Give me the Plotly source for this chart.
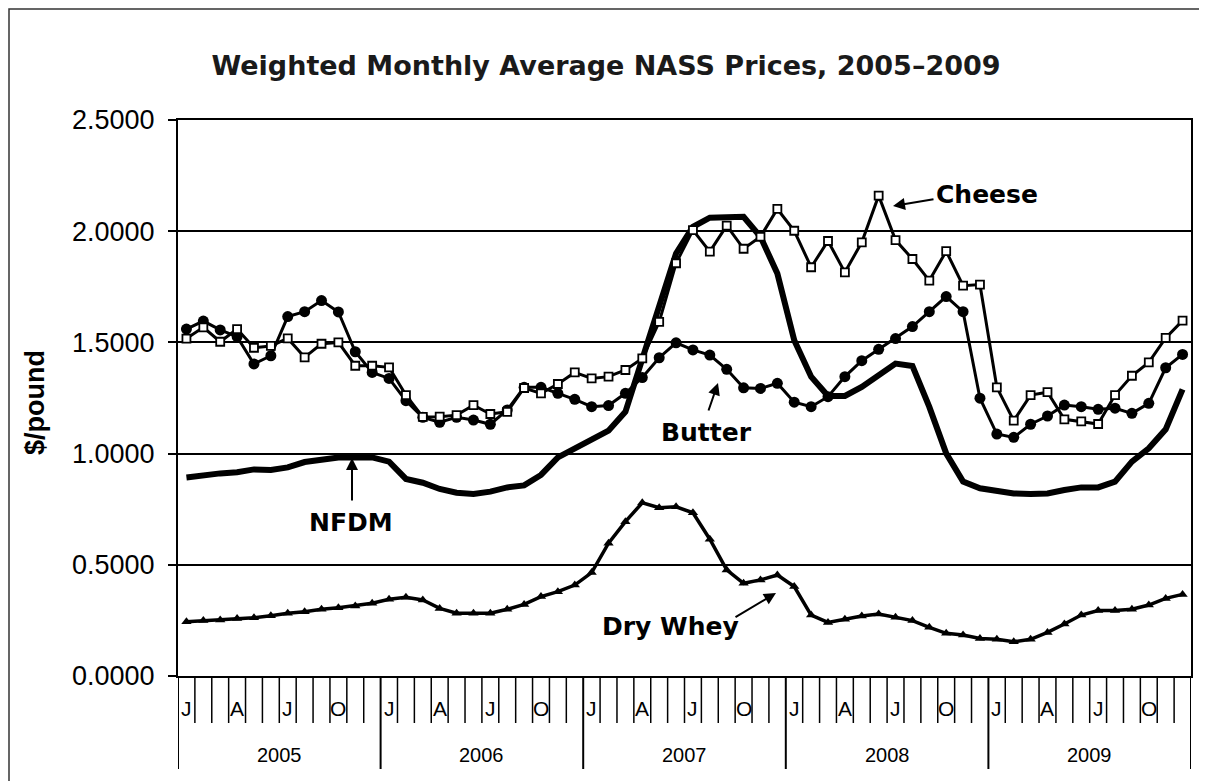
import plotly.graph_objects as go

# ---------------- data ----------------
YEARS = ["2005", "2006", "2007", "2008", "2009"]
MONTH_LABELS = ["J", "", "", "A", "", "", "J", "", "", "O", "", ""]

cheese = [1.517, 1.568, 1.503, 1.560, 1.476, 1.484, 1.518, 1.433, 1.494, 1.500, 1.395, 1.395,
          1.388, 1.263, 1.165, 1.166, 1.173, 1.218, 1.178, 1.188, 1.295, 1.271, 1.313, 1.365,
          1.338, 1.346, 1.376, 1.428, 1.592, 1.856, 2.005, 1.908, 2.025, 1.921, 1.975, 2.100,
          2.002, 1.838, 1.956, 1.815, 1.950, 2.160, 1.960, 1.875, 1.778, 1.910, 1.755, 1.760,
          1.298, 1.148, 1.263, 1.276, 1.154, 1.145, 1.133, 1.263, 1.350, 1.410, 1.520, 1.598]

butter = [1.560, 1.596, 1.556, 1.526, 1.403, 1.440, 1.616, 1.638, 1.688, 1.637, 1.458, 1.365,
          1.338, 1.238, 1.163, 1.141, 1.163, 1.151, 1.132, 1.196, 1.298, 1.298, 1.271, 1.244,
          1.211, 1.216, 1.271, 1.342, 1.431, 1.498, 1.466, 1.443, 1.379, 1.296, 1.293, 1.316,
          1.231, 1.211, 1.256, 1.346, 1.418, 1.469, 1.517, 1.571, 1.638, 1.706, 1.638, 1.249,
          1.088, 1.073, 1.132, 1.169, 1.218, 1.211, 1.199, 1.204, 1.181, 1.226, 1.386, 1.446]

nfdm = [0.893, 0.904, 0.911, 0.916, 0.929, 0.926, 0.938, 0.962, 0.974, 0.982, 0.983, 0.983,
        0.964, 0.886, 0.869, 0.841, 0.824, 0.818, 0.829, 0.848, 0.857, 0.904, 0.983, 1.024,
        1.061, 1.103, 1.188, 1.430, 1.660, 1.900, 2.020, 2.061, 2.063, 2.065, 1.975, 1.810,
        1.510, 1.346, 1.259, 1.259, 1.300, 1.353, 1.405, 1.394, 1.210, 1.001, 0.874, 0.844,
        0.832, 0.821, 0.818, 0.821, 0.836, 0.848, 0.848, 0.874, 0.964, 1.024, 1.109, 1.289]

dry_whey = [0.244, 0.249, 0.252, 0.259, 0.262, 0.271, 0.282, 0.289, 0.300, 0.307, 0.315, 0.327,
            0.345, 0.354, 0.342, 0.304, 0.282, 0.282, 0.282, 0.300, 0.322, 0.357, 0.379, 0.409,
            0.465, 0.597, 0.694, 0.779, 0.757, 0.761, 0.734, 0.615, 0.477, 0.417, 0.432, 0.454,
            0.402, 0.274, 0.241, 0.255, 0.270, 0.279, 0.264, 0.249, 0.219, 0.192, 0.184, 0.169,
            0.165, 0.154, 0.165, 0.196, 0.234, 0.274, 0.294, 0.294, 0.300, 0.319, 0.349, 0.367]

Y_TICKS = [0.0, 0.5, 1.0, 1.5, 2.0, 2.5]

# ---------------- figure ----------------
FONT = "Liberation Sans, Arial, sans-serif"
WIDE_BOLD = "DejaVu Sans, Verdana, sans-serif"
n = len(nfdm)
x = list(range(n))

fig = go.Figure()
fig.add_trace(go.Scatter(x=x, y=nfdm, mode="lines", name="NFDM",
                         line=dict(color="black", width=6)))
fig.add_trace(go.Scatter(x=x, y=dry_whey, mode="lines+markers", name="Dry Whey",
                         line=dict(color="black", width=3.5),
                         marker=dict(symbol="triangle-up", size=9, color="black")))
fig.add_trace(go.Scatter(x=x, y=butter, mode="lines+markers", name="Butter",
                         line=dict(color="black", width=3),
                         marker=dict(symbol="circle", size=11, color="black")))
fig.add_trace(go.Scatter(x=x, y=cheese, mode="lines+markers", name="Cheese",
                         line=dict(color="black", width=3),
                         marker=dict(symbol="square", size=8, color="white",
                                     line=dict(color="black", width=1.8))))

# page has an 8px body margin: size the figure so the plot lands where intended
OFF = 8
W, H = 1207 - OFF, 781 - OFF
ML, MR, MT, MB = 178 - OFF, 16, 120 - OFF, 105
PW, PH = W - ML - MR, H - MT - MB
PLOT_LEFT, PLOT_BOTTOM = 178, 676   # page coordinates of plot corner

shapes = []
annotations = []
# month boundaries and year separators below the x axis
for k in range(n + 1):
    long_line = (k % 12 == 0)
    shapes.append(dict(type="line", xref="x", yref="paper",
                       x0=k - 0.5, x1=k - 0.5, y0=0,
                       y1=-(93 if long_line else 47) / PH,
                       line=dict(color="black", width=2 if long_line else 1.5)))
for yi, yr in enumerate(YEARS):
    for mi, lab in enumerate(MONTH_LABELS):
        if lab:
            annotations.append(dict(x=yi * 12 + mi, y=-32 / PH, xref="x", yref="paper",
                                    text=lab, showarrow=False, xanchor="center",
                                    yanchor="middle",
                                    font=dict(family=FONT, size=21, color="black")))
    annotations.append(dict(x=yi * 12 + 5.5, y=-79 / PH, xref="x", yref="paper",
                            text=yr, showarrow=False, xanchor="center", yanchor="middle",
                            font=dict(family=FONT, size=20, color="black")))

# outer chart border (top and left visible)
shapes.append(dict(type="rect", xref="paper", yref="paper",
                   x0=(OFF + 1 - PLOT_LEFT) / PW, x1=1.2, y0=-0.5,
                   y1=(PLOT_BOTTOM - OFF - 1) / PH,
                   line=dict(color="#333333", width=1.5)))

# y axis title
annotations.append(dict(x=(35 - PLOT_LEFT) / PW, y=(PLOT_BOTTOM - 403) / PH,
                        xref="paper", yref="paper",
                        text="$/pound", textangle=-90, showarrow=False,
                        xanchor="center", yanchor="middle",
                        font=dict(family=FONT, size=27, color="black", weight="bold")))


def px2x(px):
    return (px - PLOT_LEFT) / (PW / n) - 0.5


def px2y(py):
    return (PLOT_BOTTOM - py) / (PH / 2.5)


labels = [("Cheese", 987, 194), ("Butter", 706, 432), ("NFDM", 351, 522),
          ("Dry Whey", 670, 626)]
for text, lx, ly in labels:
    annotations.append(dict(x=px2x(lx), y=px2y(ly), xref="x", yref="y", text=text,
                            showarrow=False, xanchor="center", yanchor="middle",
                            font=dict(family=WIDE_BOLD, size=25, color="black",
                                      weight="bold")))

arrows = [((935, 199), (893, 206)), ((708, 412), (718, 383)),
          ((352, 502), (352, 458)), ((734, 618), (776, 593))]
for (tx, ty), (hx, hy) in arrows:
    annotations.append(dict(x=px2x(hx), y=px2y(hy), xref="x", yref="y",
                            ax=px2x(tx), ay=px2y(ty), axref="x", ayref="y",
                            text="", showarrow=True, arrowhead=2, arrowsize=1.2,
                            arrowwidth=2, arrowcolor="black", standoff=0))

fig.update_layout(
    width=W, height=H,
    margin=dict(l=ML, r=MR, t=MT, b=MB),
    paper_bgcolor="white", plot_bgcolor="white",
    showlegend=False,
    title=dict(text="Weighted Monthly Average NASS Prices, 2005\u20132009",
               x=(606 - OFF) / W, y=1 - (66 - OFF) / H, xref="container", yref="container",
               xanchor="center", yanchor="middle",
               font=dict(family=WIDE_BOLD, size=27, color="#1a1a1a", weight="bold")),
    xaxis=dict(range=[-0.5, n - 0.5], showgrid=False, zeroline=False,
               showticklabels=False, ticks="", showline=True, linecolor="black",
               linewidth=2, mirror=True),
    yaxis=dict(range=[0, 2.5], tickvals=Y_TICKS, tickformat=".4f",
               showgrid=True, gridcolor="black", gridwidth=1.5, zeroline=False,
               showline=True, linecolor="black", linewidth=2, mirror=True,
               ticks="outside", ticklen=8, tickwidth=1.5, tickcolor="black",
               ticklabelstandoff=8,
               tickfont=dict(family=FONT, size=27, color="black")),
    shapes=shapes,
    annotations=annotations,
)

fig.write_html("out.html")
